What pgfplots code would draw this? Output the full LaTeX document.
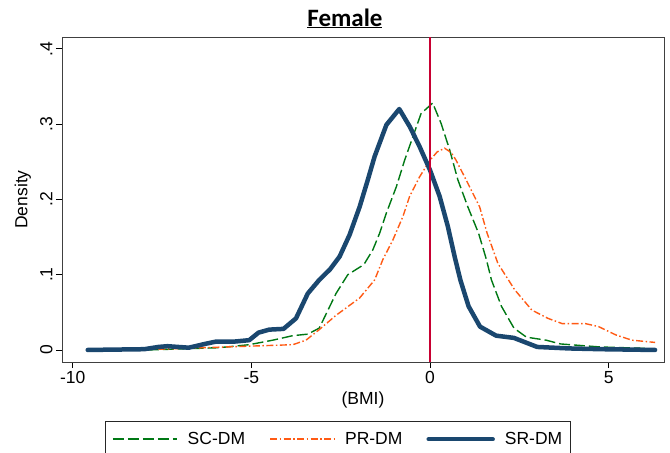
\documentclass[border=0pt]{standalone}
\usepackage{pgfplots}
\pgfplotsset{compat=1.18}
\usepackage{fontspec}
\setmainfont{Liberation Sans}
\newfontfamily\titlefont{Carlito}
\usetikzlibrary{calc}
\definecolor{scgreen}{RGB}{0,120,20}
\definecolor{prorange}{RGB}{255,90,20}
\definecolor{srnavy}{RGB}{26,71,111}
\definecolor{refred}{RGB}{200,0,50}
\tikzset{
  scstyle/.style={draw=scgreen, color=scgreen, line width=1.4bp, dash pattern=on 11bp off 4bp},
  prstyle/.style={draw=prorange, color=prorange, line width=1.4bp, dash pattern=on 7bp off 2.5bp on 1.5bp off 2.5bp},
  srstyle/.style={draw=srnavy, color=srnavy, line width=4.5bp, line cap=round, line join=round},
}
\begin{document}
\begin{tikzpicture}[font=\fontsize{17.5bp}{21bp}\selectfont]
\begin{axis}[
  name=a,
  scale only axis,
  width=602bp, height=325bp,
  xmin=-10.3, xmax=6.55,
  ymin=-0.016, ymax=0.4157,
  xtick={-10,-5,0,5}, xticklabels={-10,-5,0,5},
  ytick={0,0.1,0.2,0.3,0.4}, yticklabels={0,.1,.2,.3,.4},
  yticklabel style={rotate=90},
  tick align=outside, xtick pos=bottom, ytick pos=left,
  major tick length=6bp,
  tick style={black, line width=0.8bp},
  axis line style={black!75, line width=0.8bp},
  xlabel={(BMI)}, ylabel={Density},
  xlabel style={at={(axis description cs:0.5,-0.117)}, anchor=center},
  ylabel style={at={(axis description cs:-0.065,0.5)}, anchor=center},
  title={\titlefont\bfseries\fontsize{25bp}{29bp}\selectfont\underline{Female}},
  title style={at={(axis description cs:0.470,1)}, anchor=base, yshift=5bp},
  legend columns=3,
  legend style={at={(axis description cs:0.4585,-0.182)}, anchor=north,
    draw=none, name=leg, inner xsep=6bp, inner ysep=9bp,
    /tikz/every odd column/.append style={column sep=8bp},
    /tikz/every even column/.append style={column sep=22bp}},
]
\addplot[scstyle, legend image code/.code={\draw[scstyle, line width=2bp] (0bp,0bp) -- (64bp,0bp);}] coordinates {
(-7.9,0) (-5.9,0.003) (-5.06,0.007) (-4.4,0.013) (-3.84,0.019) (-3.42,0.021)
(-3.1,0.029) (-2.63,0.075) (-2.3,0.1) (-1.93,0.111) (-1.83,0.115) (-1.6,0.133)
(-1.41,0.155) (-1.22,0.182) (-0.94,0.217) (-0.71,0.252) (-0.48,0.283) (-0.25,0.314)
(0.075,0.328) (0.31,0.301) (0.55,0.266) (0.78,0.226) (1.06,0.19) (1.36,0.155)
(1.58,0.12) (1.72,0.093) (2.0,0.058) (2.35,0.029) (2.7,0.017) (3.25,0.013)
(3.65,0.008) (4.75,0.004) (6.1,0.002)
};
\addlegendentry{SC-DM}
\addplot[prstyle, legend image code/.code={\draw[prstyle, line width=2bp] (0bp,0bp) -- (64bp,0bp);}] coordinates {
(-7.6,0.001) (-5.7,0.004) (-3.84,0.007) (-3.47,0.013) (-3.1,0.027) (-2.63,0.046)
(-1.97,0.069) (-1.55,0.093) (-1.32,0.12) (-1.04,0.146) (-0.76,0.177) (-0.57,0.204)
(-0.29,0.23) (0,0.252) (0.2,0.263) (0.41,0.268) (0.6,0.262) (0.73,0.252) (1.01,0.226)
(1.39,0.19) (1.6,0.155) (1.9,0.115) (2.37,0.08) (2.85,0.053) (3.3,0.042) (3.7,0.035)
(4.35,0.035) (4.72,0.031) (5.2,0.02) (5.65,0.013) (6.3,0.01)
};
\addlegendentry{PR-DM}
\addplot[srstyle, legend image code/.code={\draw[srstyle] (0bp,0bp) -- (64bp,0bp);}] coordinates {
(-9.58,0) (-8,0.001) (-7.6,0.004) (-7.35,0.005) (-6.75,0.003) (-6.3,0.008)
(-6,0.011) (-5.5,0.011) (-5.06,0.013) (-4.8,0.023) (-4.5,0.027) (-4.1,0.028)
(-3.75,0.042) (-3.42,0.075) (-3.1,0.093) (-2.8,0.107) (-2.53,0.124) (-2.25,0.153)
(-1.97,0.19) (-1.74,0.226) (-1.55,0.257) (-1.22,0.299) (-0.86,0.32) (-0.57,0.297)
(-0.29,0.27) (0,0.239) (0.27,0.204) (0.5,0.164) (0.69,0.124) (0.85,0.093)
(1.08,0.058) (1.4,0.031) (1.85,0.019) (2.35,0.016) (3.0,0.004) (3.9,0.002)
(4.8,0.001) (6.3,0)
};
\addlegendentry{SR-DM}
\addplot[refred, line width=1.5bp, forget plot] coordinates {(0,-0.016) (0,0.4157)};
\end{axis}
\draw[black!85, line width=0.8bp] (leg.north west) rectangle (leg.south east);
\pgfresetboundingbox
\path[use as bounding box] ($(a.south west)+(-62bp,-91bp)$) rectangle ($(a.south west)+(608bp,362bp)$);
\end{tikzpicture}
\end{document}
